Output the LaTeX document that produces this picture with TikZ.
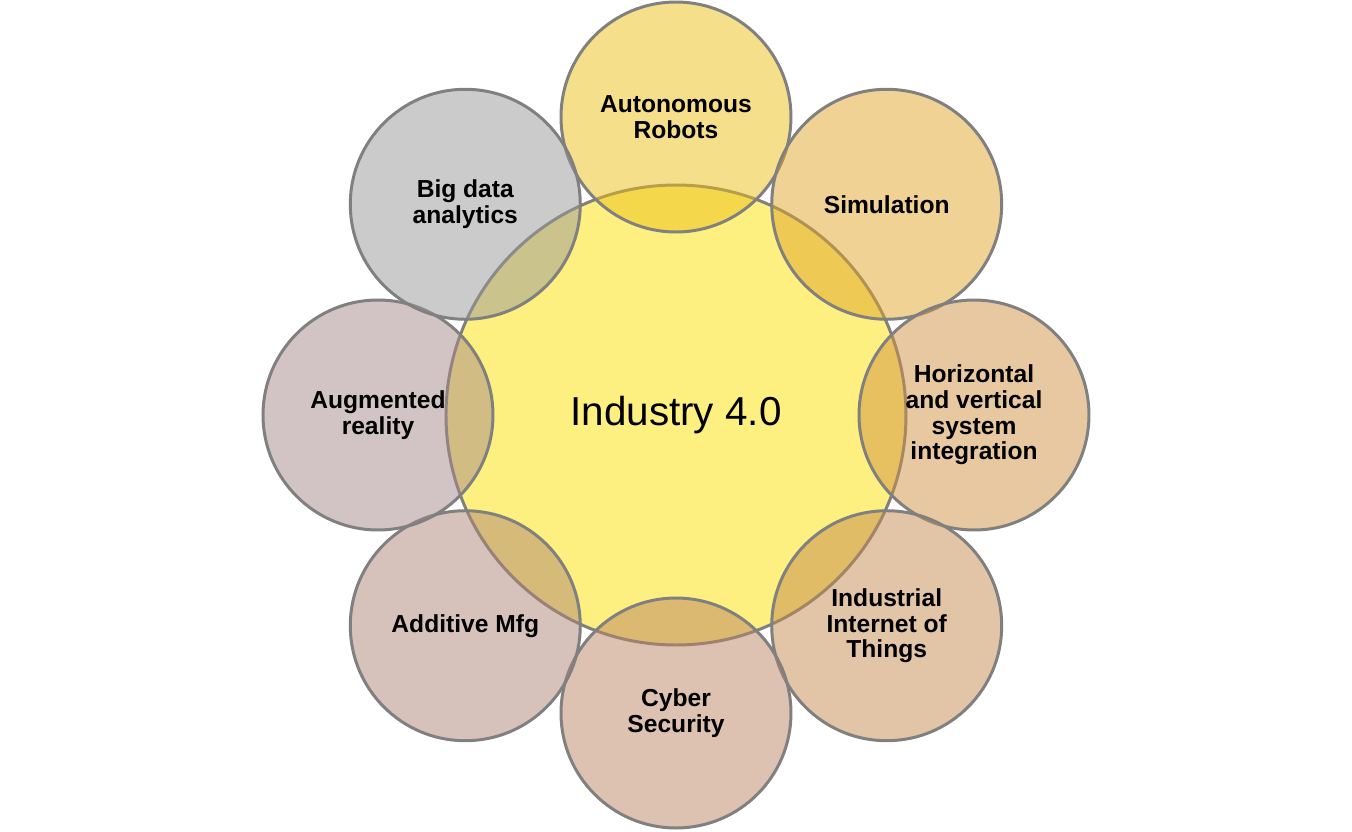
\documentclass[tikz,border=0pt]{standalone}
\usepackage{fontspec}
\setmainfont{Liberation Sans}
\usetikzlibrary{positioning}

\definecolor{rimgrey}{RGB}{128,128,128}
\definecolor{hubyellow}{RGB}{254,240,128}
\definecolor{cRobots}{RGB}{235,191,21}
\definecolor{cSim}{RGB}{223,165,41}
\definecolor{cHoriz}{RGB}{209,145,65}
\definecolor{cIiot}{RGB}{197,137,77}
\definecolor{cCyber}{RGB}{187,131,99}
\definecolor{cAdd}{RGB}{173,133,117}
\definecolor{cAug}{RGB}{165,137,137}
\definecolor{cBig}{RGB}{151,151,151}

\tikzset{
    hub/.style={circle, draw=rimgrey, line width=1.7pt, fill=hubyellow,
        minimum size=9.2cm, inner sep=0pt,
        font=\fontsize{23}{23}\selectfont},
    petal/.style={circle, draw=rimgrey, line width=1.7pt, fill=#1,
        fill opacity=0.5, text opacity=1, draw opacity=1,
        minimum size=4.6cm, inner sep=0pt, align=center,
        font=\bfseries\fontsize{14}{14.6}\selectfont}
}

\begin{document}
\begin{tikzpicture}
    \useasboundingbox (-13.52,-8.32) rectangle (13.52,8.3);
    \node[hub] (core) at (0,0) {Industry 4.0};

    \node[petal=cRobots] (robots) at (90:5.96) {Autonomous\\Robots};
    \node[petal=cSim] (sim) at (45:5.96) {Simulation};
    \node[petal=cHoriz] (integ) at (0:5.96) {Horizontal\\and vertical\\system\\integration};
    \node[petal=cIiot] (iiot) at (-45:5.96) {Industrial\\Internet of\\Things};
    \node[petal=cCyber] (cyber) at (-90:5.96) {Cyber\\Security};
    \node[petal=cAdd] (addmfg) at (-135:5.96) {Additive Mfg};
    \node[petal=cAug] (augreal) at (180:5.96) {Augmented\\reality};
    \node[petal=cBig] (bigdata) at (135:5.96) {Big data\\analytics};

\end{tikzpicture}
\end{document}
